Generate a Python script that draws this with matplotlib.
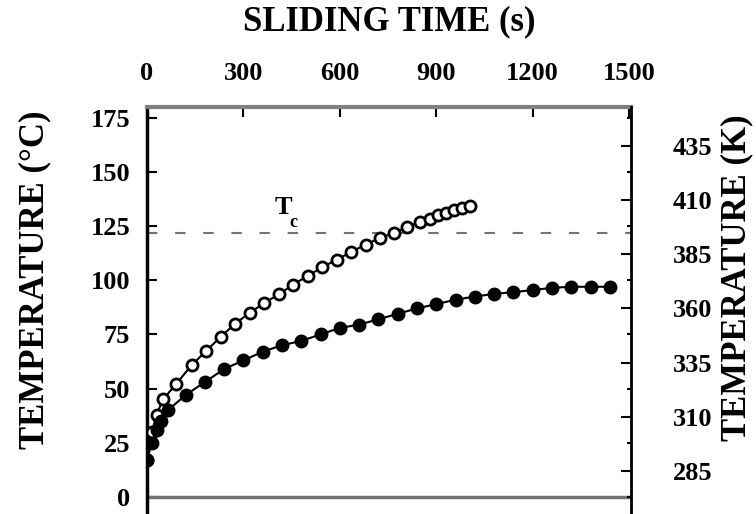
import matplotlib
matplotlib.use("Agg")
import matplotlib.pyplot as plt
from matplotlib.ticker import FixedLocator

plt.rcParams['font.family'] = ['Liberation Serif', 'DejaVu Serif']
plt.rcParams['font.weight'] = 'bold'
plt.rcParams['axes.labelweight'] = 'bold'

# sliding time (s) and temperature (deg C)
t_open = [0, 15, 30, 50, 90, 140, 185, 230, 275, 320, 365, 410, 455, 500,
          545, 590, 635, 680, 725, 770, 810, 850, 880, 905, 930, 955, 980, 1005]
T_open = [17, 30, 38, 45, 52, 61, 67.5, 74, 80, 85, 89.5, 93.5, 98, 102,
          106, 109.5, 113, 116.5, 119.5, 122, 124.5, 127, 128.5, 130, 131,
          132.5, 133.5, 134.5]

t_fill = [0, 15, 30, 45, 65, 120, 180, 240, 300, 360, 420, 480, 540, 600,
          660, 720, 780, 840, 900, 960, 1020, 1080, 1140, 1200, 1260, 1320,
          1380, 1440]
T_fill = [17, 25, 31, 35, 40, 47, 53, 59, 63, 67, 70, 72, 75, 78, 79.5, 82,
          84.5, 87, 89, 91, 92.5, 93.7, 94.5, 95.5, 96.5, 97, 97, 97]

Tc = 122
x_ticks = [0, 300, 600, 900, 1200, 1500]
c_ticks = [0, 25, 50, 75, 100, 125, 150, 175]
k_ticks = [285, 310, 335, 360, 385, 410, 435]

W, H = 756, 514
fig = plt.figure(figsize=(W / 100, H / 100), dpi=100)
left, right, top, bottom = 147, 631, 107, 518.5
aw, ah = right - left, bottom - top
ax = fig.add_axes([left / W, 1 - bottom / H, aw / W, ah / H])

ax.plot(t_open, T_open, '-o', color='black', lw=1.5, ms=8, mfc='white',
        mec='black', mew=2, zorder=3)
ax.plot(t_fill, T_fill, '-o', color='black', lw=1.5, ms=9, zorder=4)

ax.axhline(Tc, color='0.45', lw=1.5, dashes=(5, 8.5), zorder=2)
ax.axhline(0, color='0.45', lw=2.5, zorder=2)
ax.text(423, 133.4, 'T', fontsize=19, ha='center', va='center')
ax.text(455, 126.5, 'c', fontsize=13, ha='center', va='center')

ax.set_xlim(0, 1506)
ax.set_ylim(-10, 180)

ax.xaxis.tick_top()
ax.xaxis.set_label_position('top')
ax.set_xticks(x_ticks)
ax.set_xticklabels([str(v) for v in x_ticks])
ax.set_yticks(c_ticks)
ax.tick_params(axis='x', direction='in', length=7, width=1.5, labelsize=19, pad=16)
ax.tick_params(axis='y', direction='in', length=7, width=1.5, labelsize=19, pad=12)

ax.set_xlabel('SLIDING TIME (s)', fontsize=25, va='center')
ax.xaxis.set_label_coords(0.5, (bottom - 22) / ah)
ax.set_ylabel('TEMPERATURE (\u00b0C)', fontsize=25, va='center')
ax.yaxis.set_label_coords((35 - left) / aw, (bottom - 280) / ah)

ax.spines['bottom'].set_visible(False)
ax.spines['left'].set_linewidth(2.5)
ax.spines['top'].set_linewidth(3)
ax.spines['top'].set_color('0.5')

ax2 = ax.twinx()
ax2.set_ylim(-10 + 273, 180 + 273)
ax2.set_yticks(k_ticks)
ax2.yaxis.set_minor_locator(FixedLocator([c + 273 for c in c_ticks]))
ax2.tick_params(axis='y', which='major', direction='in', length=7, width=1.5,
                labelsize=19, pad=30)
ax2.tick_params(axis='y', which='minor', direction='in', length=3, width=1.5)
ax2.set_ylabel('TEMPERATURE (K)', fontsize=25, va='center')
ax2.yaxis.set_label_coords((737 - left) / aw, (bottom - 278) / ah)
ax2.spines['right'].set_linewidth(2)
for s in ['top', 'bottom', 'left']:
    ax2.spines[s].set_visible(False)

fig.savefig('out.png', dpi=100)
